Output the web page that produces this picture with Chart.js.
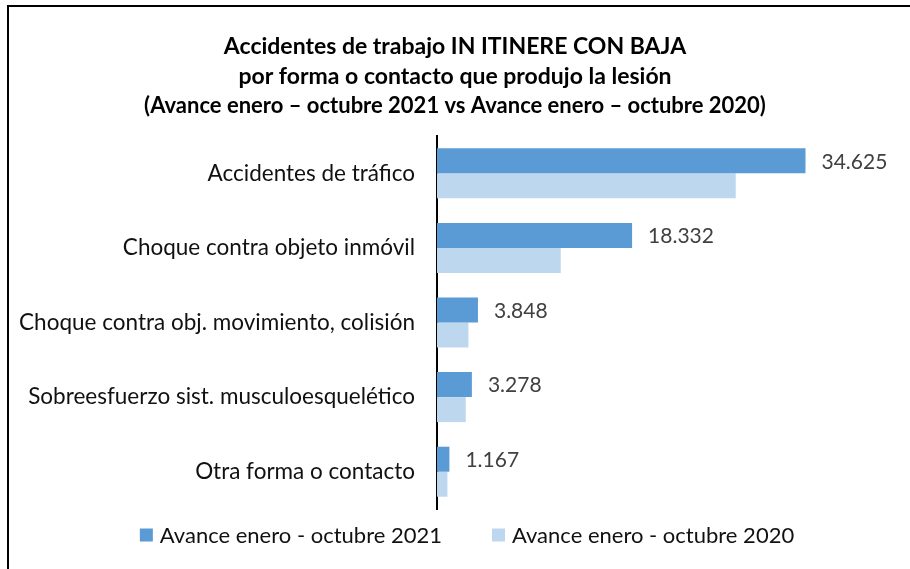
<!DOCTYPE html>
<html>
<head>
<meta charset="utf-8">
<script src="https://cdn.jsdelivr.net/npm/chart.js@4.4.0/dist/chart.umd.min.js"></script>
<style>
  html, body { margin: 0; padding: 0; background: #fff; }
  #wrap { position: absolute; left: 0; top: 0; width: 910px; height: 569px; }
</style>
</head>
<body>
<div id="wrap"><canvas id="chart" width="910" height="569"></canvas></div>
<script>
var categories = [
    'Accidentes de tráfico',
    'Choque contra objeto inmóvil',
    'Choque contra obj. movimiento, colisión',
    'Sobreesfuerzo sist. musculoesquelético',
    'Otra forma o contacto'
];
var values2021 = [34625, 18332, 3848, 3278, 1167];
var values2020 = [28070, 11630, 2950, 2700, 980];
var seriesNames = ['Avance enero - octubre 2021', 'Avance enero - octubre 2020'];
var titleLines = ['Accidentes de trabajo IN ITINERE CON BAJA', 'por forma o contacto que produjo la lesión'];
var subtitleText = '(Avance enero \u2013 octubre 2021 vs Avance enero \u2013 octubre 2020)';

var FONT = 'Lato, "Open Sans", sans-serif';

function fmt(v) {
    return v.toString().replace(/\B(?=(\d{3})+(?!\d))/g, '.');
}

// frame: only top and left edges are drawn in the original
var framePlugin = {
    id: 'frame',
    beforeDraw: function (chart) {
        var ctx = chart.ctx;
        ctx.save();
        ctx.fillStyle = '#000';
        ctx.fillRect(7, 5, 903, 2);
        ctx.fillRect(7, 5, 2, 564);
        ctx.restore();
    }
};

// value labels for the 2021 series only
var valueLabels = {
    id: 'valueLabels',
    afterDatasetsDraw: function (chart) {
        var ctx = chart.ctx;
        var meta = chart.getDatasetMeta(0);
        ctx.save();
        ctx.font = '21px ' + FONT;
        ctx.fillStyle = '#404040';
        ctx.textAlign = 'left';
        ctx.textBaseline = 'middle';
        meta.data.forEach(function (bar, i) {
            ctx.fillText(fmt(values2021[i]), bar.x + 16, bar.y + 1);
        });
        ctx.restore();
    }
};

// legend drawn by hand so the item gap does not change its height
var bottomLegend = {
    id: 'bottomLegend',
    afterDraw: function (chart) {
        var ctx = chart.ctx;
        var ds = chart.data.datasets;
        var box = 13, gapText = 7, gapItem = 50, y = 535;
        ctx.save();
        ctx.font = '22px ' + FONT;
        ctx.textBaseline = 'middle';
        var widths = ds.map(function (d) { return box + gapText + ctx.measureText(d.label).width; });
        var total = widths.reduce(function (a, b) { return a + b; }, 0) + gapItem * (ds.length - 1);
        var x = 467 - total / 2;
        ds.forEach(function (d, i) {
            ctx.fillStyle = d.backgroundColor;
            ctx.fillRect(x, y - box / 2, box, box);
            ctx.fillStyle = '#111';
            ctx.fillText(d.label, x + box + gapText, y + 1);
            x += widths[i] + gapItem;
        });
        ctx.restore();
    }
};

new Chart(document.getElementById('chart'), {
    type: 'bar',
    data: {
        labels: categories,
        datasets: [{
            label: seriesNames[0],
            data: values2021,
            backgroundColor: '#5B9BD5',
            borderWidth: 0,
            categoryPercentage: 0.67,
            barPercentage: 1
        }, {
            label: seriesNames[1],
            data: values2020,
            backgroundColor: '#BDD7EE',
            borderWidth: 0,
            categoryPercentage: 0.67,
            barPercentage: 1
        }]
    },
    options: {
        indexAxis: 'y',
        responsive: false,
        animation: false,
        layout: { padding: { left: 9, right: 9, top: 32, bottom: 60 } },
        scales: {
            x: {
                display: false,
                min: 0,
                max: 43600
            },
            y: {
                grid: { display: false, drawTicks: false },
                border: { color: '#000', width: 2 },
                ticks: {
                    color: '#111',
                    font: { family: FONT, size: 22.5 },
                    padding: 22
                },
                afterFit: function (scale) { scale.width = 428; }
            }
        },
        plugins: {
            title: {
                display: true,
                text: titleLines,
                color: '#000',
                font: { family: FONT, size: 23, weight: 'bold', lineHeight: 1.3 },
                padding: { top: 0, bottom: 2 }
            },
            subtitle: {
                display: true,
                text: subtitleText,
                color: '#000',
                font: { family: FONT, size: 22, weight: 'bold', lineHeight: 1.1 },
                padding: { top: 0, bottom: 18 }
            },
            legend: { display: false },
            tooltip: { enabled: false }
        }
    },
    plugins: [framePlugin, valueLabels, bottomLegend]
});
</script>
</body>
</html>
